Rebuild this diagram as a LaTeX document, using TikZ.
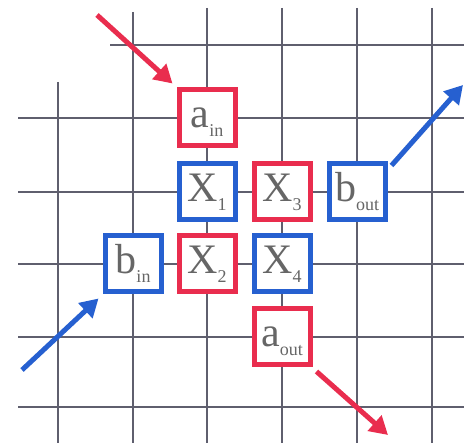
\documentclass[tikz,border=0pt]{standalone}
\usepackage{fontspec}
\setmainfont{Liberation Serif}
\usepackage[dvipsnames]{xcolor}
\usetikzlibrary{arrows.meta}

\definecolor{slidered}{RGB}{233,45,78}
\definecolor{slideblue}{RGB}{38,96,208}
\definecolor{gridgray}{RGB}{95,95,110}
\newcommand{\boxlabel}[2]{#1\raisebox{-.2em}{\fontsize{18}{18}\selectfont #2}}

\begin{document}
\begin{tikzpicture}[
    x = 1pt, y = -1pt,
    gridline/.style={draw = gridgray, line width = 1.3pt},
    cell/.style={
      draw, line width = 5pt, fill = white,
      minimum size = 56pt, inner sep = 0pt,
      text height = 28pt, text depth = 8pt,
      text = black!60, font = \fontsize{42}{42}\selectfont,
    },
    redcell/.style={cell, draw = slidered},
    bluecell/.style={cell, draw = slideblue},
    flow/.style={line width = 5pt, -{Triangle[length=18pt,width=20pt]}},
  ]
  \useasboundingbox (0,0) rectangle (464,443);
  \foreach \x in {207,282,357,432}
    \draw[gridline] (\x,8) -- (\x,443);
  \draw[gridline] (133,12) -- (133,443);
  \draw[gridline] (58,82) -- (58,443);
  \draw[gridline] (110,45) -- (464,45);
  \foreach \y in {118,192,264,337,407}
    \draw[gridline] (18,\y) -- (464,\y);

  \node[redcell]  (ain)  at (207,118) {\boxlabel{a}{in}};
  \node[bluecell] (x1)   at (207,192) {\boxlabel{X}{1}};
  \node[redcell]  (x3)   at (282,192) {\boxlabel{X}{3}};
  \node[bluecell] (bout) at (357,192) {\boxlabel{b}{out}};
  \node[bluecell] (bin)  at (133,264) {\boxlabel{b}{in}};
  \node[redcell]  (x2)   at (207,264) {\boxlabel{X}{2}};
  \node[bluecell] (x4)   at (282,264) {\boxlabel{X}{4}};
  \node[redcell]  (aout) at (282,337) {\boxlabel{a}{out}};

  \coordinate (ain-from) at (97,15);
  \coordinate (bout-to) at (463,85);
  \coordinate (bin-from) at (22,370);
  \coordinate (aout-to) at (388,435);

  \draw[flow, slidered] (ain-from) -- ([shift={(-4pt,4pt)}]ain.north west);
  \draw[flow, slideblue] ([shift={(4pt,-4pt)}]bout.north east) -- (bout-to);
  \draw[flow, slideblue] (bin-from) -- ([shift={(-4pt,-4pt)}]bin.south west);
  \draw[flow, slidered] ([shift={(4pt,-4pt)}]aout.south east) -- (aout-to);
\end{tikzpicture}
\end{document}
